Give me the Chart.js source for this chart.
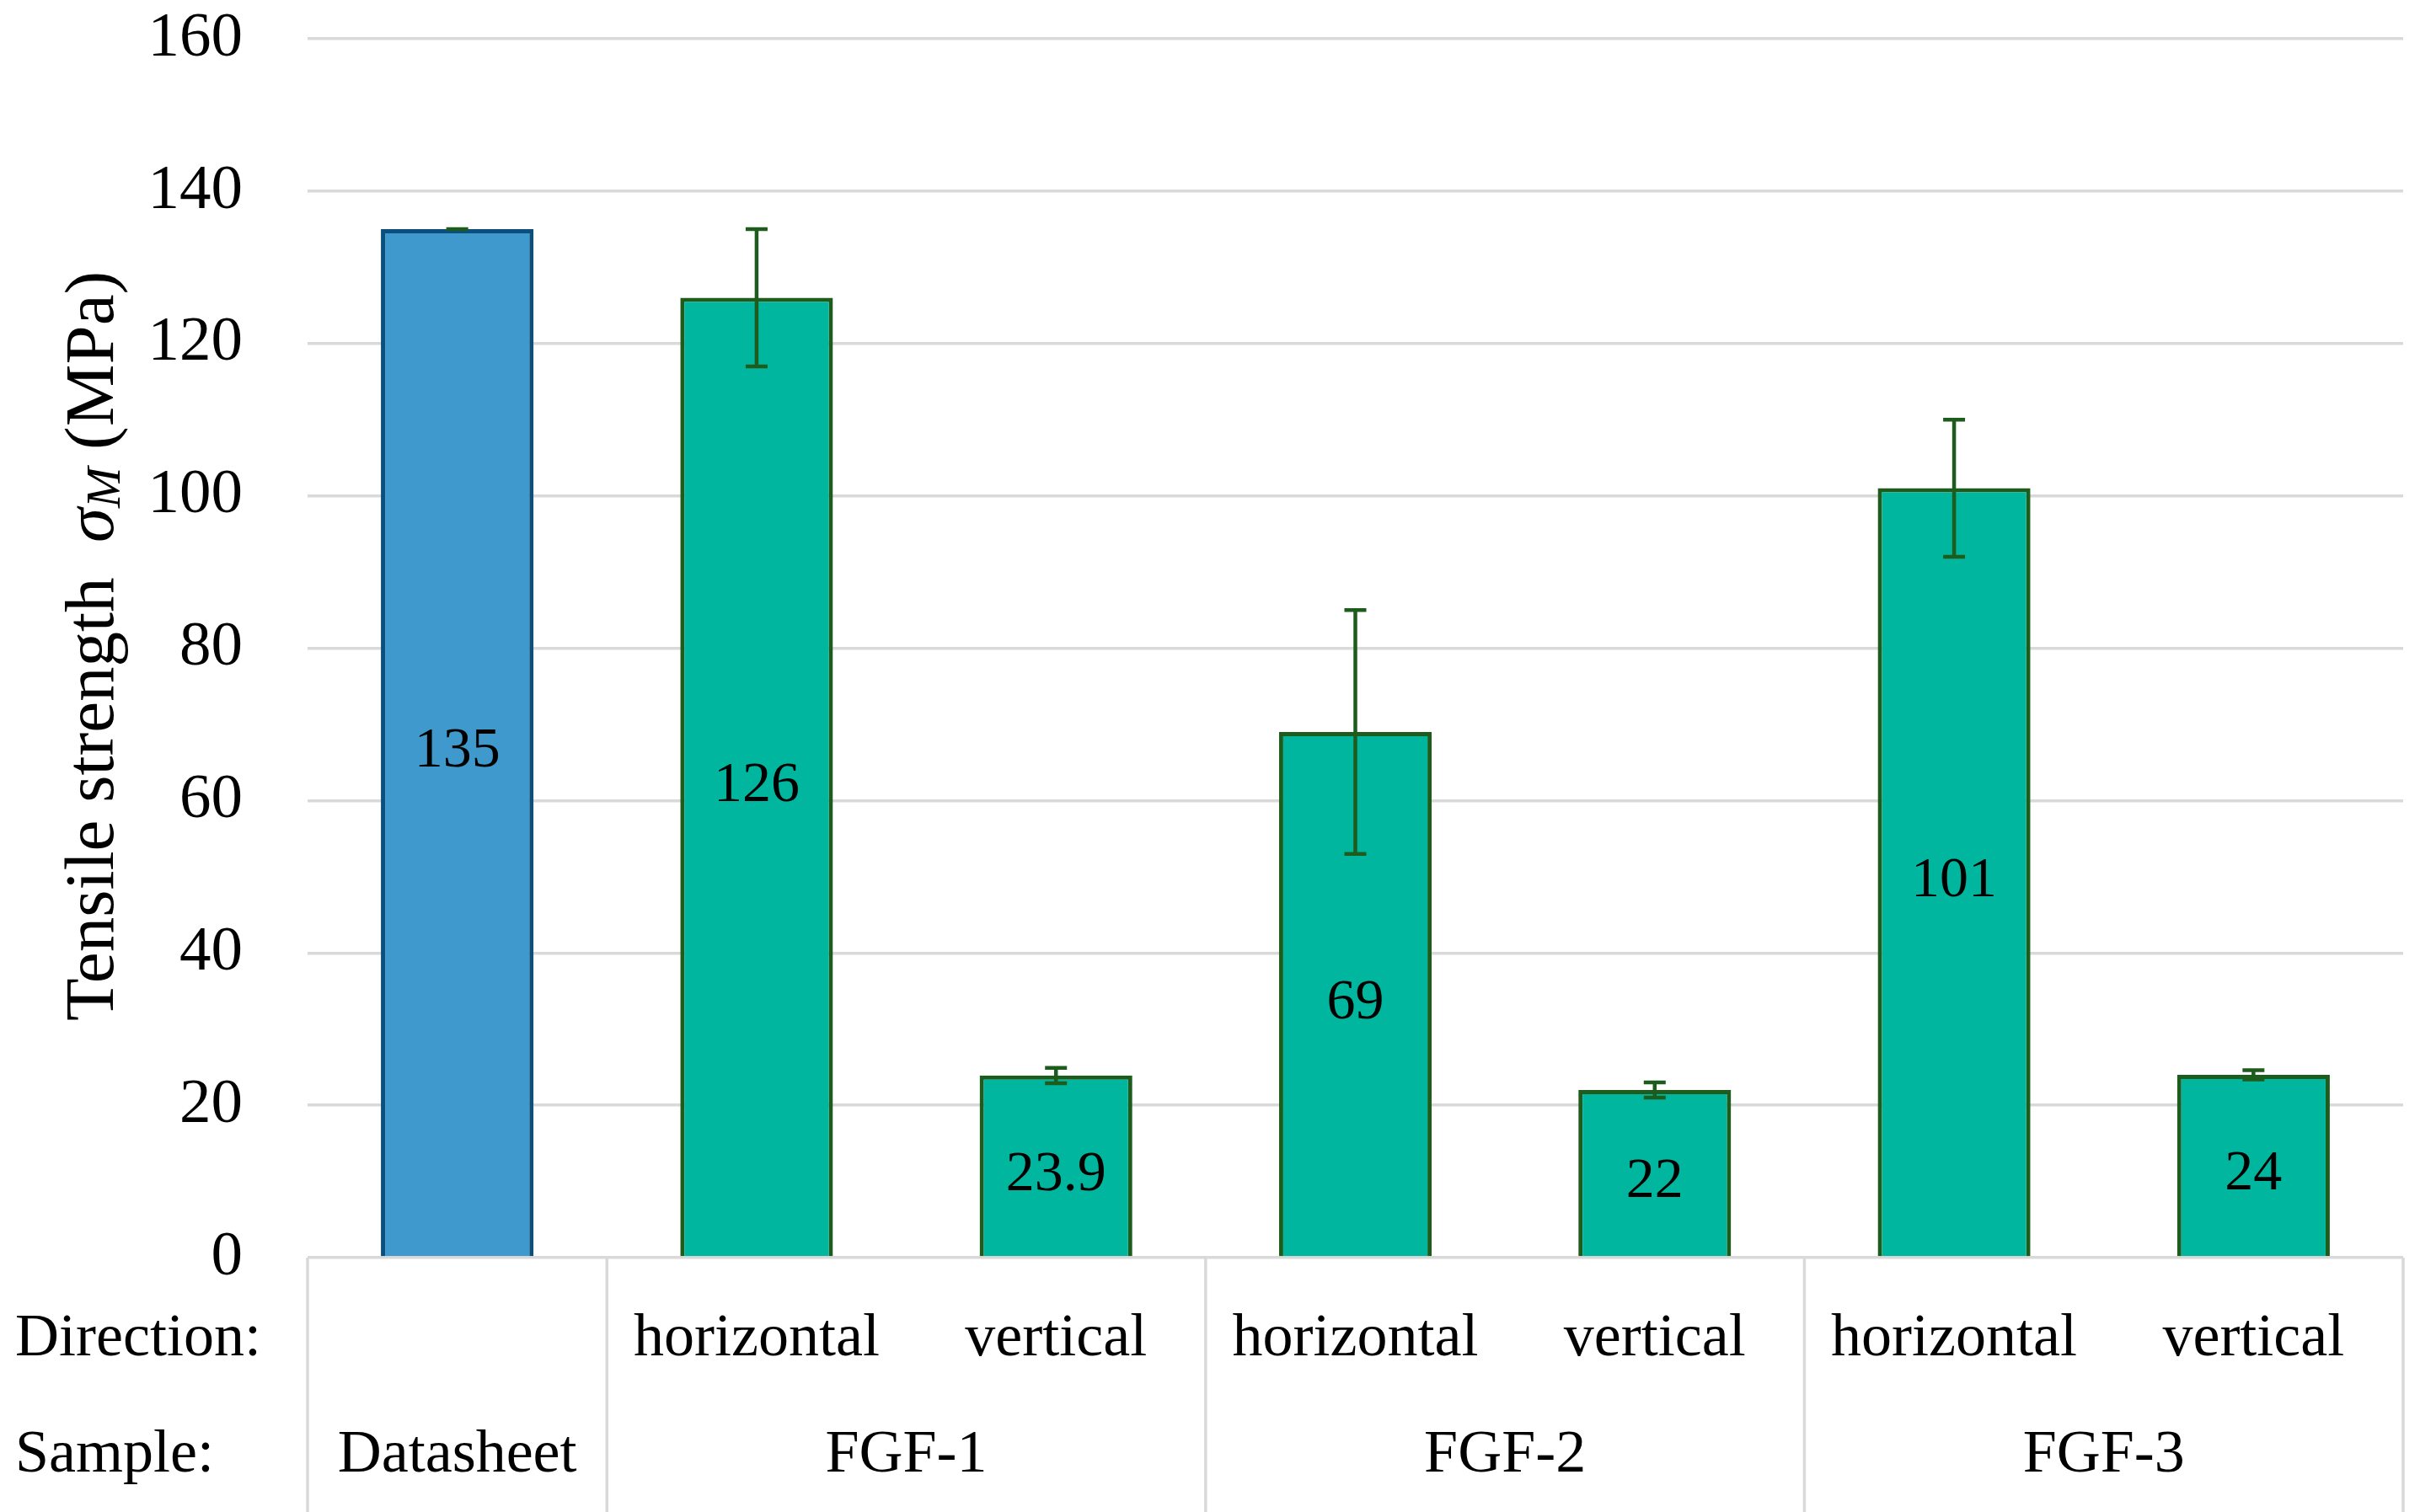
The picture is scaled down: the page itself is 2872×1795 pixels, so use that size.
<!DOCTYPE html>
<html>
<head>
<meta charset="utf-8">
<script src="https://cdn.jsdelivr.net/npm/chart.js@4.4.1/dist/chart.umd.min.js"></script>
<style>
  html, body { margin: 0; padding: 0; background: #ffffff; }
  #strengthChart { display: block; }
</style>
</head>
<body>
<canvas id="strengthChart" width="2872" height="1795" style="width:2872px;height:1795px"></canvas>
<script>
// Data
const directions = ["", "horizontal", "vertical", "horizontal", "vertical", "horizontal", "vertical"];
const samples = ["Datasheet", "FGF-1", "FGF-2", "FGF-3"];
const sampleSpans = [1, 2, 2, 2]; // bars per sample group
const strength = [135, 126, 23.9, 69, 22, 101, 24];
const strengthErr = [0, 9, 1, 16, 1, 9, 0.6];
const valueLabels = ["135", "126", "23.9", "69", "22", "101", "24"];
const yMin = 0;
const yMax = 160;
const yStep = 20;

const FONT = "'Liberation Serif', 'Times New Roman', serif";
const gridColor = "#d9d9d9";
const errColor = "#1e5c1e";

// build category labels from sample + direction
const categories = [];
let k = 0;
samples.forEach((s, i) => {
  for (let j = 0; j < sampleSpans[i]; j++) {
    categories.push(directions[k] ? s + " " + directions[k] : s);
    k++;
  }
});

const fillColors = strength.map((v, i) => (i === 0 ? "#3f99cc" : "#00b69f"));
const borderColors = strength.map((v, i) => (i === 0 ? "#0d4f7c" : "#1e5c1e"));

// error bars
const errorBarPlugin = {
  id: "errorBars",
  afterDatasetsDraw(chart) {
    const ctx = chart.ctx;
    const y = chart.scales.y;
    const meta = chart.getDatasetMeta(0);
    ctx.save();
    ctx.strokeStyle = errColor;
    ctx.lineWidth = 4.5;
    meta.data.forEach((bar, i) => {
      const x = bar.x;
      const top = y.getPixelForValue(strength[i] + strengthErr[i]);
      const bot = y.getPixelForValue(strength[i] - strengthErr[i]);
      ctx.beginPath();
      ctx.moveTo(x, top);
      ctx.lineTo(x, bot);
      ctx.moveTo(x - 13, top);
      ctx.lineTo(x + 13, top);
      ctx.moveTo(x - 13, bot);
      ctx.lineTo(x + 13, bot);
      ctx.stroke();
    });
    ctx.restore();
  }
};

// value labels centred in bars
const valueLabelPlugin = {
  id: "valueLabels",
  afterDraw(chart) {
    const ctx = chart.ctx;
    const y = chart.scales.y;
    const meta = chart.getDatasetMeta(0);
    ctx.save();
    ctx.fillStyle = "#000000";
    ctx.font = "68px " + FONT;
    ctx.textAlign = "center";
    ctx.textBaseline = "middle";
    meta.data.forEach((bar, i) => {
      const mid = (y.getPixelForValue(strength[i]) + y.getPixelForValue(0)) / 2;
      ctx.fillText(valueLabels[i], bar.x, mid + 10);
    });
    ctx.restore();
  }
};

// two-row category table under the plot
const tablePlugin = {
  id: "categoryTable",
  afterDraw(chart) {
    const ctx = chart.ctx;
    const area = chart.chartArea;
    const x = chart.scales.x;
    const n = categories.length;
    const catW = (area.right - area.left) / n;
    const rowDir = area.bottom + 97;
    const rowSample = area.bottom + 235;
    ctx.save();
    ctx.strokeStyle = gridColor;
    ctx.lineWidth = 3.5;
    ctx.font = "72px " + FONT;
    ctx.fillStyle = "#000000";
    ctx.textBaseline = "middle";

    ctx.textAlign = "left";
    ctx.fillText("Direction:", 18, rowDir);
    ctx.fillText("Sample:", 18, rowSample);

    ctx.textAlign = "center";
    directions.forEach((d, i) => {
      if (d) ctx.fillText(d, x.getPixelForValue(i), rowDir);
    });

    let start = 0;
    const edges = [area.left];
    samples.forEach((s, i) => {
      const end = start + sampleSpans[i] - 1;
      const cx = (x.getPixelForValue(start) + x.getPixelForValue(end)) / 2;
      ctx.fillText(s, cx, rowSample);
      edges.push(x.getPixelForValue(end) + catW / 2);
      start = end + 1;
    });

    ctx.beginPath();
    edges.forEach((ex) => {
      ctx.moveTo(ex, area.bottom);
      ctx.lineTo(ex, chart.height);
    });
    ctx.stroke();
    ctx.restore();
  }
};

// y axis title with italic sigma and subscript M
const yTitlePlugin = {
  id: "yTitle",
  afterDraw(chart) {
    const ctx = chart.ctx;
    const parts = [
      { t: "Tensile strength  ", f: "83px " + FONT, dy: 0 },
      { t: "σ", f: "italic 83px " + FONT, dy: 0 },
      { t: "M", f: "italic 58px " + FONT, dy: 15 },
      { t: " (MPa)", f: "83px " + FONT, dy: 0 }
    ];
    ctx.save();
    let total = 0;
    parts.forEach((p) => {
      ctx.font = p.f;
      p.w = ctx.measureText(p.t).width;
      total += p.w;
    });
    ctx.translate(112, 767);
    ctx.rotate(-Math.PI / 2);
    ctx.fillStyle = "#000000";
    ctx.textBaseline = "middle";
    ctx.textAlign = "left";
    let pos = -total / 2;
    parts.forEach((p) => {
      ctx.font = p.f;
      ctx.fillText(p.t, pos, p.dy);
      pos += p.w;
    });
    ctx.restore();
  }
};

const chart = new Chart(document.getElementById("strengthChart"), {
  type: "bar",
  data: {
    labels: categories,
    datasets: [
      {
        data: strength,
        backgroundColor: fillColors,
        borderColor: borderColors,
        borderWidth: 5,
        barPercentage: 0.51,
        categoryPercentage: 1.0
      }
    ]
  },
  options: {
    responsive: false,
    devicePixelRatio: 1,
    animation: false,
    layout: { padding: { top: 46, right: 20, bottom: 302, left: 0 } },
    plugins: {
      legend: { display: false },
      tooltip: { enabled: false }
    },
    scales: {
      x: {
        display: false,
        grid: { display: false }
      },
      y: {
        min: yMin,
        max: yMax,
        ticks: {
          stepSize: yStep,
          padding: 77,
          color: "#000000",
          font: { family: FONT, size: 75 }
        },
        grid: { color: gridColor, lineWidth: 3.5, drawTicks: false },
        border: { display: false },
        afterFit(scale) {
          scale.width = 365;
          scale.paddingTop = 0;
          scale.paddingBottom = 0;
        }
      }
    }
  },
  plugins: [errorBarPlugin, valueLabelPlugin, tablePlugin, yTitlePlugin]
});
</script>
</body>
</html>
